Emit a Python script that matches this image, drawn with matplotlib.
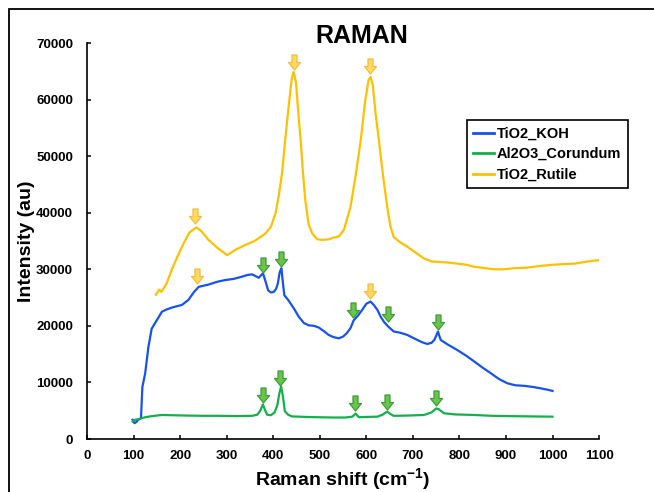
import matplotlib
matplotlib.use("Agg")
import matplotlib.pyplot as plt
from matplotlib.path import Path
from matplotlib.patches import Rectangle

plt.rcParams['font.family'] = ['Liberation Sans', 'DejaVu Sans']
plt.rcParams['font.weight'] = 'bold'
plt.rcParams['mathtext.fontset'] = 'custom'
plt.rcParams['mathtext.rm'] = 'Liberation Sans:bold'
plt.rcParams['mathtext.bf'] = 'Liberation Sans:bold'
plt.rcParams['mathtext.default'] = 'rm'

# TiO2_Rutile spectrum
rutile_x = [148, 155, 160, 171, 185, 204, 220, 235, 245, 261, 280, 301, 320, 340, 360, 383, 395, 405,
            412, 419, 426, 433, 440, 444, 449, 454, 459, 464, 469, 476, 484, 495, 505, 520, 530, 541,
            552, 566, 577, 588, 598, 605, 609, 614, 620, 627, 636, 645, 652, 659, 672, 688, 705, 724,
            740, 753, 775, 796, 815, 832, 855, 875, 895, 918, 945, 975, 1000, 1020, 1047, 1070, 1085, 1100]
rutile_y = [25500, 26400, 26000, 27500, 30500, 34000, 36500, 37400, 36800, 35200, 33800, 32500, 33500,
            34300, 35000, 36300, 37500, 39900, 43000, 47000, 53000, 58700, 63800, 64900, 63000, 57500,
            52800, 47000, 42200, 38000, 36300, 35300, 35200, 35300, 35600, 35800, 37000, 41000, 46500,
            52800, 60000, 63500, 64000, 62500, 57500, 52800, 46500, 41000, 37500, 35700, 34800, 34000,
            33000, 31900, 31400, 31300, 31200, 31000, 30800, 30450, 30200, 30000, 30000, 30200, 30300,
            30600, 30800, 30900, 31000, 31300, 31500, 31600]

# TiO2_KOH spectrum
koh_x = [98, 102, 106, 110, 116, 119, 125, 132, 139, 150, 161, 171, 185, 204, 218, 230, 240, 261, 280,
         297, 315, 333, 345, 355, 362, 369, 378, 383, 389, 395, 401, 406, 410, 414, 417.6, 421, 424, 433,
         445, 455, 466, 476, 488, 498, 510, 519, 530, 541, 550, 558, 566, 573, 582, 591, 600, 609, 616,
         624, 631, 638, 648, 659, 672, 688, 700, 710, 720, 731, 740, 746, 751, 754, 757, 760, 775, 796,
         815, 832, 850, 868, 885, 903, 920, 939, 958, 975, 990, 1000]
koh_y = [3400, 2800, 3000, 3400, 3650, 9200, 11600, 16300, 19500, 21000, 22500, 22900, 23300, 23700,
         24600, 26000, 26900, 27300, 27800, 28100, 28300, 28700, 29000, 29100, 28800, 28500, 29300, 28000,
         26300, 25900, 26000, 26500, 27500, 29500, 30200, 27500, 25400, 24500, 23000, 21600, 20500, 20100,
         20000, 19700, 19000, 18400, 18000, 17800, 18100, 18700, 19600, 21000, 21800, 22800, 23900, 24300,
         23700, 22800, 21600, 20700, 19800, 19000, 18800, 18400, 17900, 17500, 17100, 16800, 17000, 17500,
         18400, 19000, 18200, 17500, 16700, 15700, 14700, 13700, 12600, 11600, 10600, 9850, 9500, 9400,
         9200, 8950, 8700, 8500]

# Al2O3_Corundum spectrum
cor_x = [98, 103, 110, 125, 140, 161, 185, 211, 250, 283, 320, 355, 366, 372, 378, 383, 387, 395, 403,
         409, 413, 417, 421, 425, 432, 440, 470, 497, 530, 555, 570, 577, 584, 600, 624, 635, 645, 652,
         659, 690, 724, 740, 750, 755, 767, 790, 832, 870, 903, 950, 1000]
cor_y = [3100, 3400, 3500, 3850, 4050, 4250, 4200, 4150, 4100, 4100, 4050, 4100, 4300, 5000, 6100, 5000,
         4300, 4200, 4700, 6000, 8000, 9300, 7500, 4900, 4300, 4000, 3900, 3850, 3800, 3800, 3950, 4500,
         3850, 3900, 3950, 4300, 4850, 4400, 4100, 4150, 4250, 4700, 5400, 5300, 4550, 4350, 4250, 4100,
         4050, 4000, 3950]

# peak markers (arrow centres)
yellow_arrow_x = [232, 444, 609, 236, 609]
yellow_arrow_y = [39500, 66700, 65900, 28800, 26200]
green_arrow_x = [378, 417, 572, 647, 754, 378, 415, 575, 644, 749]
green_arrow_y = [30800, 31800, 22850, 22150, 20650, 7770, 10800, 6300, 6600, 7200]

x_ticks = list(range(0, 1101, 100))
y_ticks = list(range(0, 70001, 10000))

fig = plt.figure(figsize=(6.54, 4.92), dpi=100)
ax = fig.add_axes([0.133, 0.1077, 0.783, 0.8049])

ax.plot(koh_x, koh_y, color='#1652F0', lw=1.6, label='TiO2_KOH', zorder=3)
ax.plot(cor_x, cor_y, color='#13B04B', lw=1.6, label='Al2O3_Corundum', zorder=3)
ax.plot(rutile_x, rutile_y, color='#FFC000', lw=1.6, label='TiO2_Rutile', zorder=3)

# block arrow pointing down
arrow = Path([(-2.5, 7.5), (2.5, 7.5), (2.5, 0), (6, 0), (0, -7.5), (-6, 0), (-2.5, 0), (-2.5, 7.5)],
             [Path.MOVETO] + [Path.LINETO] * 6 + [Path.CLOSEPOLY])
ax.plot(yellow_arrow_x, yellow_arrow_y, ls='none', marker=arrow, ms=10.8,
        mfc='#FFD966', mec='#F2BE3A', mew=0.9, zorder=4)
ax.plot(green_arrow_x, green_arrow_y, ls='none', marker=arrow, ms=10.8,
        mfc='#6DC24B', mec='#3A9E3A', mew=0.9, zorder=4)

ax.set_xlim(0, 1100)
ax.set_ylim(0, 70000)
ax.set_xticks(x_ticks)
ax.set_yticks(y_ticks)
ax.spines['top'].set_visible(False)
ax.spines['right'].set_visible(False)
ax.spines['left'].set_linewidth(1.2)
ax.spines['bottom'].set_linewidth(1.2)
ax.tick_params(axis='both', direction='in', length=3, width=1.1, labelsize=9.5)
ax.tick_params(axis='x', pad=8)
ax.tick_params(axis='y', pad=10)
for lab in ax.get_xticklabels() + ax.get_yticklabels():
    lab.set_fontweight('bold')

ax.set_xlabel(r'Raman shift (cm$^{-1}$)', fontsize=14, fontweight='bold', labelpad=3)
ax.set_ylabel('Intensity (au)', fontsize=14, fontweight='bold', labelpad=1)
fig.text(362 / 654, 1 - 36 / 492, 'RAMAN', fontsize=18, fontweight='bold', ha='center', va='center')

leg = ax.legend(loc='upper left', bbox_to_anchor=(0.7136, 0.756), bbox_transform=fig.transFigure,
                borderaxespad=0, fancybox=False, framealpha=1, edgecolor='black',
                prop={'size': 10.5, 'weight': 'bold'}, handlelength=1.4, handletextpad=0.2,
                labelspacing=0.45, borderpad=0.45)
leg.get_frame().set_linewidth(1.2)
for line in leg.get_lines():
    line.set_linewidth(2)

# chart border
fig.patches.append(Rectangle((9.3 / 654, -0.1), 1.2, 0.981 + 0.1, transform=fig.transFigure,
                             fill=False, ec='black', lw=1.3))

fig.savefig('out.png', dpi=100)
